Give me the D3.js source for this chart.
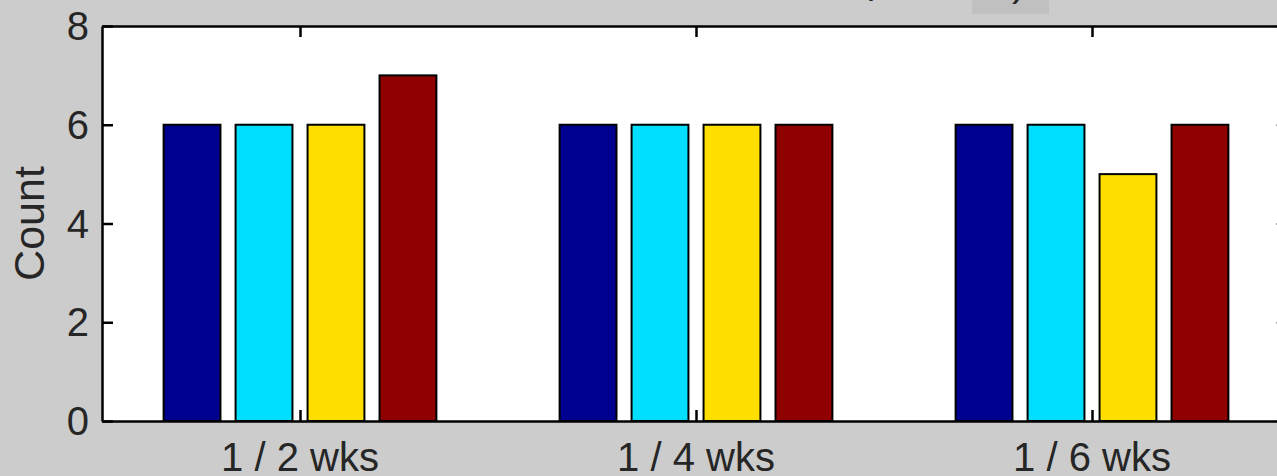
<!DOCTYPE html>
<html>
<head>
<meta charset="utf-8">
<script src="https://cdn.jsdelivr.net/npm/d3@7/dist/d3.min.js"></script>
<style>
  html, body { margin: 0; padding: 0; background: #cccccc; }
  svg { display: block; }
  text { font-family: "Liberation Sans", Arial, sans-serif; fill: #262626; }
</style>
</head>
<body>
<svg id="chart" width="1277" height="476"></svg>
<script>
// ---- data ----
const categories = ["1 / 2 wks", "1 / 4 wks", "1 / 6 wks"];
const seriesNames = ["S1", "S2", "S3", "S4"];
const seriesColors = ["#00008F", "#00DFFF", "#FFDF00", "#8F0000"];
const series1 = [6, 6, 6];
const series2 = [6, 6, 6];
const series3 = [6, 6, 5];
const series4 = [7, 6, 6];
const yTicks = [0, 2, 4, 6, 8];
const yLabel = "Count";

const seriesValues = [series1, series2, series3, series4];

const svg = d3.select("#chart");

const plotLeft = 102, plotTop = 26, plotBottom = 421;
const groupStep = 396;
const x = d3.scaleLinear().domain([0.5, 3.5]).range([plotLeft, plotLeft + 3 * groupStep]);
const y = d3.scaleLinear().domain([0, 8]).range([plotBottom, plotTop]);

// plot background
svg.append("rect")
  .attr("x", x(0.5)).attr("y", y(8))
  .attr("width", x(3.5) - x(0.5)).attr("height", y(0) - y(8))
  .attr("fill", "#ffffff");

// partial title (cut off at the top)
svg.append("rect").attr("x", 972).attr("y", 0).attr("width", 77).attr("height", 14).attr("fill", "#c0c0c0");
svg.append("text").attr("x", 860).attr("y", -7).style("font-size", "40px").text("(");
svg.append("text").attr("x", 1012).attr("y", -4).style("font-size", "40px").text(")");

// bars
const half = (x(1) - x(0.5)) * 0.727;
const inner = d3.scaleBand().domain(d3.range(seriesNames.length))
  .range([-half, half]).paddingInner(0.21).paddingOuter(0.105);

const rows = [];
categories.forEach((c, i) => {
  seriesValues.forEach((vals, s) => rows.push({ cat: i + 1, s, v: vals[i] }));
});

svg.append("g").selectAll("rect").data(rows).join("rect")
  .attr("x", d => x(d.cat) + inner(d.s))
  .attr("y", d => y(d.v))
  .attr("width", inner.bandwidth())
  .attr("height", d => y(0) - y(d.v))
  .attr("fill", d => seriesColors[d.s])
  .attr("stroke", "#000")
  .attr("stroke-width", 2);

// axes
const tickLen = 11;
const gL = svg.append("g").attr("transform", `translate(${x(0.5)},0)`)
  .call(d3.axisRight(y).tickValues(yTicks).tickSize(tickLen).tickSizeOuter(0).tickFormat(""));
const gR = svg.append("g").attr("transform", `translate(${x(3.5)},0)`)
  .call(d3.axisLeft(y).tickValues(yTicks).tickSize(14).tickSizeOuter(0).tickFormat(""));
const gB = svg.append("g").attr("transform", `translate(0,${y(0)})`)
  .call(d3.axisTop(x).tickValues([1, 2, 3]).tickSize(tickLen).tickSizeOuter(0).tickFormat(""));
const gT = svg.append("g").attr("transform", `translate(0,${y(8)})`)
  .call(d3.axisBottom(x).tickValues([1, 2, 3]).tickSize(tickLen).tickSizeOuter(0).tickFormat(""));
[gL, gB, gT].forEach(g => {
  g.select(".domain").attr("stroke", "#000").attr("stroke-width", 2.5);
  g.selectAll(".tick line").attr("stroke", "#000").attr("stroke-width", 2.5);
});
gR.select(".domain").attr("stroke", "#000").attr("stroke-width", 2.5);
gR.selectAll(".tick line").attr("stroke", "#aaa").attr("stroke-width", 2);

// y tick labels
svg.append("g").selectAll("text").data(yTicks).join("text")
  .attr("x", 89).attr("y", d => y(d)).attr("dy", "0.35em")
  .attr("text-anchor", "end").style("font-size", "40px")
  .text(d => d);

// x tick labels
svg.append("g").selectAll("text").data(categories).join("text")
  .attr("x", (d, i) => x(i + 1)).attr("y", 471)
  .attr("text-anchor", "middle").style("font-size", "40px")
  .text(d => d);

// y label
svg.append("text")
  .attr("transform", `translate(44, ${(plotTop + plotBottom) / 2}) rotate(-90)`)
  .attr("text-anchor", "middle").style("font-size", "43px")
  .text(yLabel);
</script>
</body>
</html>
